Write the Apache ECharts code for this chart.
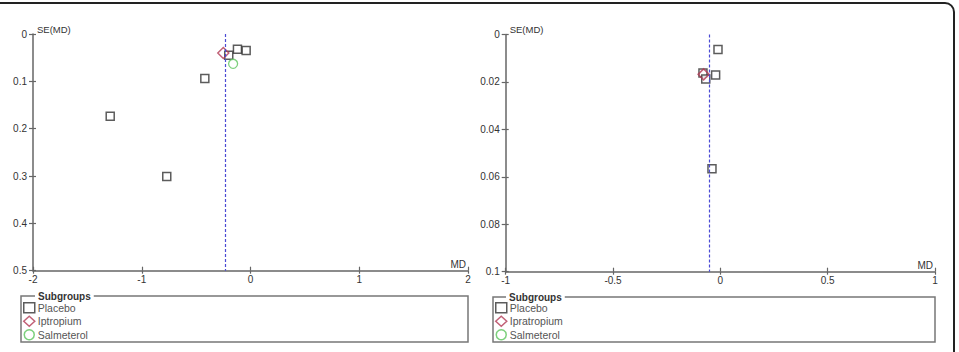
<!DOCTYPE html>
<html>
<head>
<meta charset="utf-8">
<script src="https://cdn.jsdelivr.net/npm/echarts@6/dist/echarts.min.js"></script>
<style>
html,body{margin:0;padding:0;background:#fff;}
#chart{width:959px;height:352px;}
</style>
</head>
<body>
<div id="chart"></div>
<script>
// ---- Left funnel plot ----
var leftPlaceboMD = [-0.12, -0.04, -0.20, -0.42, -1.29, -0.77];
var leftPlaceboSE = [0.032, 0.035, 0.045, 0.094, 0.174, 0.301];
var leftIptropiumMD = [-0.25];
var leftIptropiumSE = [0.040];
var leftSalmeterolMD = [-0.16];
var leftSalmeterolSE = [0.063];
var leftPooledMD = -0.23;
var leftXTicks = [-2, -1, 0, 1, 2];
var leftYTicks = [0, 0.1, 0.2, 0.3, 0.4, 0.5];
var leftLegend = ['Placebo', 'Iptropium', 'Salmeterol'];

// ---- Right funnel plot ----
var rightPlaceboMD = [-0.011, -0.022, -0.081, -0.068, -0.039];
var rightPlaceboSE = [0.0063, 0.0171, 0.0162, 0.0188, 0.0566];
var rightIpratropiumMD = [-0.078];
var rightIpratropiumSE = [0.0168];
var rightSalmeterolMD = [];
var rightSalmeterolSE = [];
var rightPooledMD = -0.053;
var rightXTicks = [-1, -0.5, 0, 0.5, 1];
var rightYTicks = [0, 0.02, 0.04, 0.06, 0.08, 0.1];
var rightLegend = ['Placebo', 'Ipratropium', 'Salmeterol'];

function pairs(xs, ys) { return xs.map(function (x, i) { return [x, ys[i]]; }); }

var FONT = '"Liberation Sans", Arial, sans-serif';
var AXIS_COLOR = '#666';

function xAxes(gridIndex, ticks) {
  var min = ticks[0], max = ticks[ticks.length - 1], interval = ticks[1] - ticks[0];
  return [{
    type: 'value', gridIndex: gridIndex, position: 'bottom', min: min, max: max, interval: interval,
    splitLine: { show: false },
    axisLine: { show: true, onZero: false, lineStyle: { color: AXIS_COLOR, width: 1.5 } },
    axisTick: { show: true, inside: true, length: 4, lineStyle: { color: AXIS_COLOR, width: 1.2 } },
    axisLabel: { fontFamily: FONT, fontSize: 10, color: '#333', margin: 4 },
    name: 'MD', nameLocation: 'end', nameGap: -2,
    nameTextStyle: { fontFamily: FONT, fontSize: 10, color: '#333', align: 'right', verticalAlign: 'bottom', padding: [0, 0, 1, 0] }
  }, {
    type: 'value', gridIndex: gridIndex, position: 'bottom', min: min, max: max, interval: interval,
    splitLine: { show: false },
    axisLine: { show: false, onZero: false },
    axisTick: { show: true, inside: false, length: 3, lineStyle: { color: AXIS_COLOR, width: 1.2 } },
    axisLabel: { show: false }
  }];
}

function yAxes(gridIndex, ticks) {
  var min = ticks[0], max = ticks[ticks.length - 1], interval = ticks[1] - ticks[0];
  return [{
    type: 'value', gridIndex: gridIndex, position: 'left', min: min, max: max, interval: interval, inverse: true,
    splitLine: { show: false },
    axisLine: { show: true, onZero: false, lineStyle: { color: AXIS_COLOR, width: 1.5 } },
    axisTick: { show: true, inside: false, length: 4, lineStyle: { color: AXIS_COLOR, width: 1.2 } },
    axisLabel: { fontFamily: FONT, fontSize: 10, color: '#333', margin: 6 },
    name: 'SE(MD)', nameLocation: 'start', nameGap: 0,
    nameTextStyle: { fontFamily: FONT, fontSize: 9.5, color: '#333', align: 'left', verticalAlign: 'bottom', padding: [0, 0, 0, 4] }
  }, {
    type: 'value', gridIndex: gridIndex, position: 'left', min: min, max: max, interval: interval, inverse: true,
    splitLine: { show: false },
    axisLine: { show: false, onZero: false },
    axisTick: { show: true, inside: true, length: 3, lineStyle: { color: AXIS_COLOR, width: 1.2 } },
    axisLabel: { show: false }
  }];
}

var squareStyle = { color: '#fff', borderColor: '#333', borderWidth: 1.5 };
var diamondStyle = { color: 'transparent', borderColor: '#b23a55', borderWidth: 1.5 };
var circleStyle = { color: '#fff', borderColor: '#5cc45c', borderWidth: 1.3 };

function pooledLine(v) {
  return {
    symbol: 'none', silent: true, animation: false,
    label: { show: false },
    lineStyle: { color: '#4a4ad4', type: [3, 2], width: 1.2 },
    data: [{ xAxis: v }]
  };
}

var option = {
  animation: false,
  backgroundColor: '#fff',
  grid: [
    { left: 33, top: 34, width: 435, height: 236.7 },
    { left: 505.7, top: 34.5, width: 429.3, height: 237.2 }
  ],
  xAxis: xAxes(0, leftXTicks).concat(xAxes(1, rightXTicks)),
  yAxis: yAxes(0, leftYTicks).concat(yAxes(1, rightYTicks)),
  legend: [{
    left: 23, top: 302, orient: 'vertical', padding: 0,
    itemWidth: 11, itemHeight: 10, itemGap: 2, itemStyle: { borderWidth: 1.5 },
    data: leftLegend,
    textStyle: { fontFamily: FONT, fontSize: 10.5, color: '#555', padding: [0, 0, 0, -2] }
  }, {
    left: 495, top: 302, orient: 'vertical', padding: 0,
    itemWidth: 11, itemHeight: 10, itemGap: 2, itemStyle: { borderWidth: 1.5 },
    data: rightLegend,
    textStyle: { fontFamily: FONT, fontSize: 10.5, color: '#555', padding: [0, 0, 0, -2] }
  }],
  series: [
    { name: 'Placebo', type: 'scatter', xAxisIndex: 0, yAxisIndex: 0, symbol: 'rect', symbolSize: 8,
      itemStyle: squareStyle, data: pairs(leftPlaceboMD, leftPlaceboSE), markLine: pooledLine(leftPooledMD), z: 3 },
    { name: 'Iptropium', type: 'scatter', xAxisIndex: 0, yAxisIndex: 0, symbol: 'diamond', symbolSize: [11, 11],
      itemStyle: diamondStyle, data: pairs(leftIptropiumMD, leftIptropiumSE), z: 4 },
    { name: 'Salmeterol', type: 'scatter', xAxisIndex: 0, yAxisIndex: 0, symbol: 'circle', symbolSize: 9,
      itemStyle: circleStyle, data: pairs(leftSalmeterolMD, leftSalmeterolSE), z: 3 },
    { name: 'Placebo', type: 'scatter', xAxisIndex: 2, yAxisIndex: 2, symbol: 'rect', symbolSize: 8,
      itemStyle: squareStyle, data: pairs(rightPlaceboMD, rightPlaceboSE), markLine: pooledLine(rightPooledMD), z: 3 },
    { name: 'Ipratropium', type: 'scatter', xAxisIndex: 2, yAxisIndex: 2, symbol: 'diamond', symbolSize: [11, 11],
      itemStyle: diamondStyle, data: pairs(rightIpratropiumMD, rightIpratropiumSE), z: 4 },
    { name: 'Salmeterol', type: 'scatter', xAxisIndex: 2, yAxisIndex: 2, symbol: 'circle', symbolSize: 9,
      itemStyle: circleStyle, data: pairs(rightSalmeterolMD, rightSalmeterolSE), z: 3 }
  ],
  graphic: [
    { type: 'rect', z: -1, silent: true, shape: { x: -10, y: 3, width: 964, height: 400, r: 9 },
      style: { fill: 'none', stroke: '#222', lineWidth: 2 } },
    { type: 'rect', z: 0, silent: true, shape: { x: 21, y: 296, width: 447, height: 46 },
      style: { fill: 'none', stroke: '#777', lineWidth: 1.5 } },
    { type: 'text', z: 1, silent: true, x: 35, y: 296,
      style: { text: 'Subgroups', fontFamily: FONT, fontSize: 10, fontWeight: 'bold', fill: '#333',
        verticalAlign: 'middle', backgroundColor: '#fff', padding: [0, 3] } },
    { type: 'rect', z: 0, silent: true, shape: { x: 493, y: 297, width: 442, height: 45 },
      style: { fill: 'none', stroke: '#777', lineWidth: 1.5 } },
    { type: 'text', z: 1, silent: true, x: 506, y: 297,
      style: { text: 'Subgroups', fontFamily: FONT, fontSize: 10, fontWeight: 'bold', fill: '#333',
        verticalAlign: 'middle', backgroundColor: '#fff', padding: [0, 3] } }
  ]
};

var chart = echarts.init(document.getElementById('chart'), null, { renderer: 'svg' });
chart.setOption(option);
</script>
</body>
</html>
